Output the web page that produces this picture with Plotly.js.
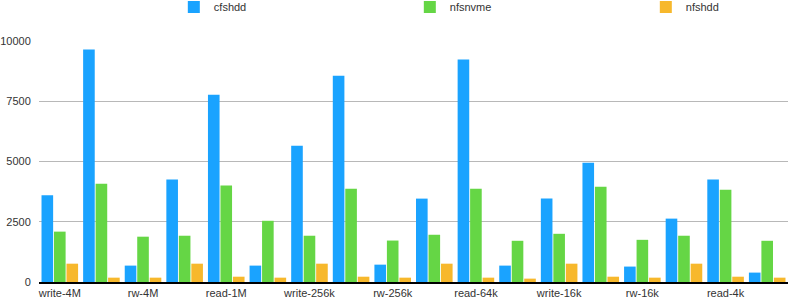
<!DOCTYPE html>
<html><head><meta charset="utf-8">
<script src="https://cdn.plot.ly/plotly-3.0.1.min.js"></script>
<style>html,body{margin:0;padding:0;background:#fff;}#chart{width:789px;height:299px;}</style>
</head><body><div id="chart"></div>
<script>
const categories = ["write-4M","read-4M","rw-4M","write-1M","read-1M","rw-1M","write-256k","read-256k","rw-256k","write-64k","read-64k","rw-64k","write-16k","read-16k","rw-16k","write-4k","read-4k","rw-4k"];
const cfshdd  = [3600,9650,680,4250,7770,680,5650,8560,720,3460,9230,680,3460,4950,640,2630,4250,390];
const nfsnvme = [2090,4080,1880,1920,4000,2540,1920,3870,1720,1960,3870,1710,2000,3950,1750,1920,3830,1710];
const nfshdd  = [760,180,180,760,220,180,760,220,180,760,180,140,760,220,180,760,220,180];
const tickLabels = ["write-4M","rw-4M","read-1M","write-256k","rw-256k","read-64k","write-16k","rw-16k","read-4k"];
const tickCats = categories.filter((c,i)=>i%2===0);

const font = {family:"Helvetica, 'Liberation Sans', Arial, sans-serif", size:11, color:"#333"};
const traces = [
  {name:"cfshdd", y:cfshdd, color:"#1AA3FF"},
  {name:"nfsnvme", y:nfsnvme, color:"#65D645"},
  {name:"nfshdd", y:nfshdd, color:"#F7B82C"}
].map(s=>({type:"bar", name:s.name, x:categories, y:s.y, marker:{color:s.color, line:{width:0}}, hoverinfo:"x+y+name"}));

const layout = {
  width:789, height:299,
  margin:{l:39, r:1, t:41, b:17, pad:0, autoexpand:false},
  paper_bgcolor:"#fff", plot_bgcolor:"#fff",
  font:font,
  barmode:"group", bargap:0.1, bargroupgap:0.07,
  showlegend:true,
  legend:{orientation:"h", x:0.18, xanchor:"left", y:1.141, yanchor:"middle", entrywidth:191, entrywidthmode:"pixels", font:font, itemwidth:30, bgcolor:"rgba(0,0,0,0)"},
  xaxis:{type:"category", tickmode:"array", tickvals:tickCats, ticktext:tickLabels, showgrid:false, showline:true, linecolor:"#000", linewidth:1.5, ticks:"", zeroline:false, tickfont:font, fixedrange:true},
  yaxis:{range:[0,10000], tickvals:[0,2500,5000,7500,10000], ticktext:["0","2500","5000","7500","10000"], showgrid:true, gridcolor:"#b8b8b8", gridwidth:1, zeroline:false, showline:false, ticks:"outside", ticklen:5, tickcolor:"rgba(0,0,0,0)", tickfont:font, fixedrange:true}
};
Plotly.newPlot("chart", traces, layout, {displayModeBar:false, staticPlot:true});
</script></body></html>
